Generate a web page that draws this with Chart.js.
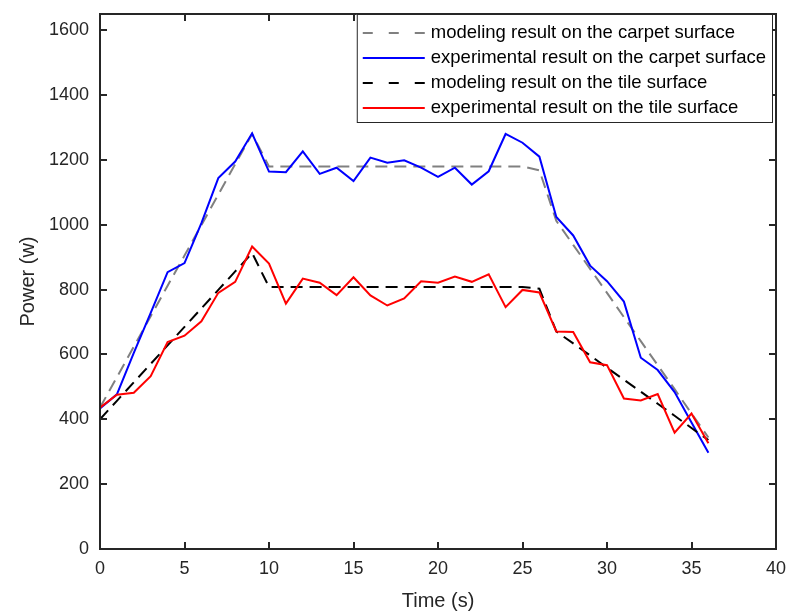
<!DOCTYPE html>
<html>
<head>
<meta charset="utf-8">
<script src="https://cdn.jsdelivr.net/npm/chart.js@4.4.1/dist/chart.umd.min.js"></script>
<style>
  body { margin: 0; background: #fff; }
  canvas { display: block; }
</style>
</head>
<body>
<canvas id="powerChart" width="789" height="615"></canvas>
<script>
// time axis (s), one reading per second
const timeSec = [0, 1, 2, 3, 4, 5, 6, 7, 8, 9, 10, 11, 12, 13, 14, 15, 16, 17, 18,
    19, 20, 21, 22, 23, 24, 25, 26, 27, 28, 29, 30, 31, 32, 33, 34, 35, 36];

// modeling result, carpet (gray dashed)
const modelCarpet = [436, 530, 624, 718, 812, 905, 999, 1093, 1187, 1280, 1180, 1180, 1180,
    1180, 1180, 1180, 1180, 1180, 1180, 1180, 1180, 1180, 1180, 1180, 1180, 1180, 1168,
    1012, 938, 864, 790, 715, 641, 567, 493, 418, 344];

// experimental result, carpet (blue)
const expCarpet = [433, 477, 605, 728, 854, 882, 1005, 1144, 1195, 1282, 1164, 1162, 1226,
    1157, 1176, 1135, 1207, 1191, 1199, 1176, 1148, 1176, 1124, 1165, 1280, 1253, 1210,
    1024, 967, 874, 826, 763, 590, 552, 484, 390, 297];

// modeling result, tile (black dashed)
const modelTile = [400, 457, 514, 571, 628, 685, 742, 799, 856, 913, 808, 808, 808, 808,
    808, 808, 808, 808, 808, 808, 808, 808, 808, 808, 808, 808, 803, 671, 634, 597, 559,
    522, 485, 448, 411, 373, 336];

// experimental result, tile (red)
const expTile = [436, 476, 482, 533, 638, 658, 702, 790, 824, 933, 880, 757, 834, 821, 783,
    838, 782, 751, 773, 826, 821, 840, 824, 847, 746, 799, 791, 671, 669, 576, 567, 464,
    458, 478, 359, 418, 326];

const xTicks = [0, 5, 10, 15, 20, 25, 30, 35, 40];
const yTicks = [0, 200, 400, 600, 800, 1000, 1200, 1400, 1600];

const seriesNames = [
    'modeling result on the carpet surface',
    'experimental result on the carpet surface',
    'modeling result on the tile surface',
    'experimental result on the tile surface'
];

const FONT = '"Liberation Sans", Arial, Helvetica, sans-serif';
const INK = '#262626';
const DASH = [12, 7];

function toPoints(values) {
    return timeSec.map((t, i) => ({ x: t, y: values[i] }));
}

// keep label overflow from shrinking the plot box
function noScalePadding(s) {
    s.paddingTop = 0;
    s.paddingBottom = 0;
    s.paddingLeft = 0;
    s.paddingRight = 0;
}

// MATLAB style frame: box on all four sides, ticks pointing inward
const framePlugin = {
    id: 'frame',
    afterDraw(chart) {
        const ctx = chart.ctx;
        const area = chart.chartArea;
        const xs = chart.scales.x;
        const ys = chart.scales.y;
        const len = 7;
        ctx.save();
        ctx.strokeStyle = INK;
        ctx.lineWidth = 2;
        ctx.beginPath();
        xTicks.forEach(v => {
            const px = Math.round(xs.getPixelForValue(v));
            ctx.moveTo(px, area.bottom); ctx.lineTo(px, area.bottom - len);
            ctx.moveTo(px, area.top); ctx.lineTo(px, area.top + len);
        });
        yTicks.forEach(v => {
            const py = Math.round(ys.getPixelForValue(v));
            ctx.moveTo(area.left, py); ctx.lineTo(area.left + len, py);
            ctx.moveTo(area.right, py); ctx.lineTo(area.right - len, py);
        });
        ctx.stroke();
        ctx.strokeRect(area.left, area.top, area.right - area.left, area.bottom - area.top);
        ctx.restore();
    }
};

// legend box in the upper right corner of the axes
const legendPlugin = {
    id: 'boxLegend',
    afterDraw(chart) {
        const ctx = chart.ctx;
        const area = chart.chartArea;
        ctx.save();
        ctx.font = '18.5px ' + FONT;
        let maxW = 0;
        seriesNames.forEach(n => { maxW = Math.max(maxW, ctx.measureText(n).width); });
        const sampleW = 62;
        const boxW = 6 + sampleW + 6 + maxW + 7;
        const boxH = 109;
        const right = area.right - 3;
        const left = right - boxW;
        const top = area.top;
        ctx.fillStyle = '#fff';
        ctx.fillRect(left, top, boxW, boxH);
        ctx.strokeStyle = INK;
        ctx.lineWidth = 1;
        ctx.strokeRect(left + 0.5, top + 0.5, boxW - 1, boxH - 1);

        chart.data.datasets.forEach((ds, i) => {
            const cy = top + 19 + i * 25;
            const x0 = left + 6;
            ctx.strokeStyle = ds.borderColor;
            ctx.lineWidth = 2;
            ctx.setLineDash(ds.borderDash && ds.borderDash.length ? [10, 16] : []);
            ctx.beginPath();
            ctx.moveTo(x0, cy);
            ctx.lineTo(x0 + sampleW, cy);
            ctx.stroke();
            ctx.setLineDash([]);
            ctx.fillStyle = '#000';
            ctx.textBaseline = 'middle';
            ctx.textAlign = 'left';
            ctx.fillText(ds.label, x0 + sampleW + 6, cy);
        });
        ctx.restore();
    }
};

new Chart(document.getElementById('powerChart'), {
    type: 'line',
    data: {
        datasets: [
            { label: seriesNames[0], data: toPoints(modelCarpet), borderColor: '#808080', borderDash: DASH, order: 4 },
            { label: seriesNames[1], data: toPoints(expCarpet), borderColor: '#0000ff', borderDash: [], order: 3 },
            { label: seriesNames[2], data: toPoints(modelTile), borderColor: '#000000', borderDash: DASH, order: 2 },
            { label: seriesNames[3], data: toPoints(expTile), borderColor: '#ff0000', borderDash: [], order: 1 }
        ]
    },
    options: {
        responsive: false,
        animation: false,
        devicePixelRatio: 1,
        layout: { padding: { top: 14, right: 13, left: 0, bottom: 0 } },
        elements: {
            line: { borderWidth: 2, tension: 0, fill: false },
            point: { radius: 0 }
        },
        plugins: {
            legend: { display: false },
            tooltip: { enabled: false }
        },
        scales: {
            x: {
                type: 'linear',
                min: 0,
                max: 40,
                grid: { display: false, drawTicks: false },
                border: { display: false },
                afterBuildTicks: s => { s.ticks = xTicks.map(v => ({ value: v })); },
                afterFit: s => { s.height = 66; noScalePadding(s); },
                ticks: { color: INK, padding: 9, font: { family: FONT, size: 18 }, maxRotation: 0 },
                title: {
                    display: true, text: 'Time (s)', color: INK,
                    font: { family: FONT, size: 20 }, padding: { top: 0, bottom: 2 }
                }
            },
            y: {
                min: 0,
                max: 1650,
                grid: { display: false, drawTicks: false },
                border: { display: false },
                afterBuildTicks: s => { s.ticks = yTicks.map(v => ({ value: v })); },
                afterFit: s => { s.width = 100; noScalePadding(s); },
                ticks: {
                    color: INK, padding: 11, font: { family: FONT, size: 18 },
                    callback: v => String(v)
                },
                title: {
                    display: true, text: 'Power (w)', color: INK,
                    font: { family: FONT, size: 20 }, padding: { top: 16, bottom: 0 }
                }
            }
        }
    },
    plugins: [framePlugin, legendPlugin]
});
</script>
</body>
</html>
